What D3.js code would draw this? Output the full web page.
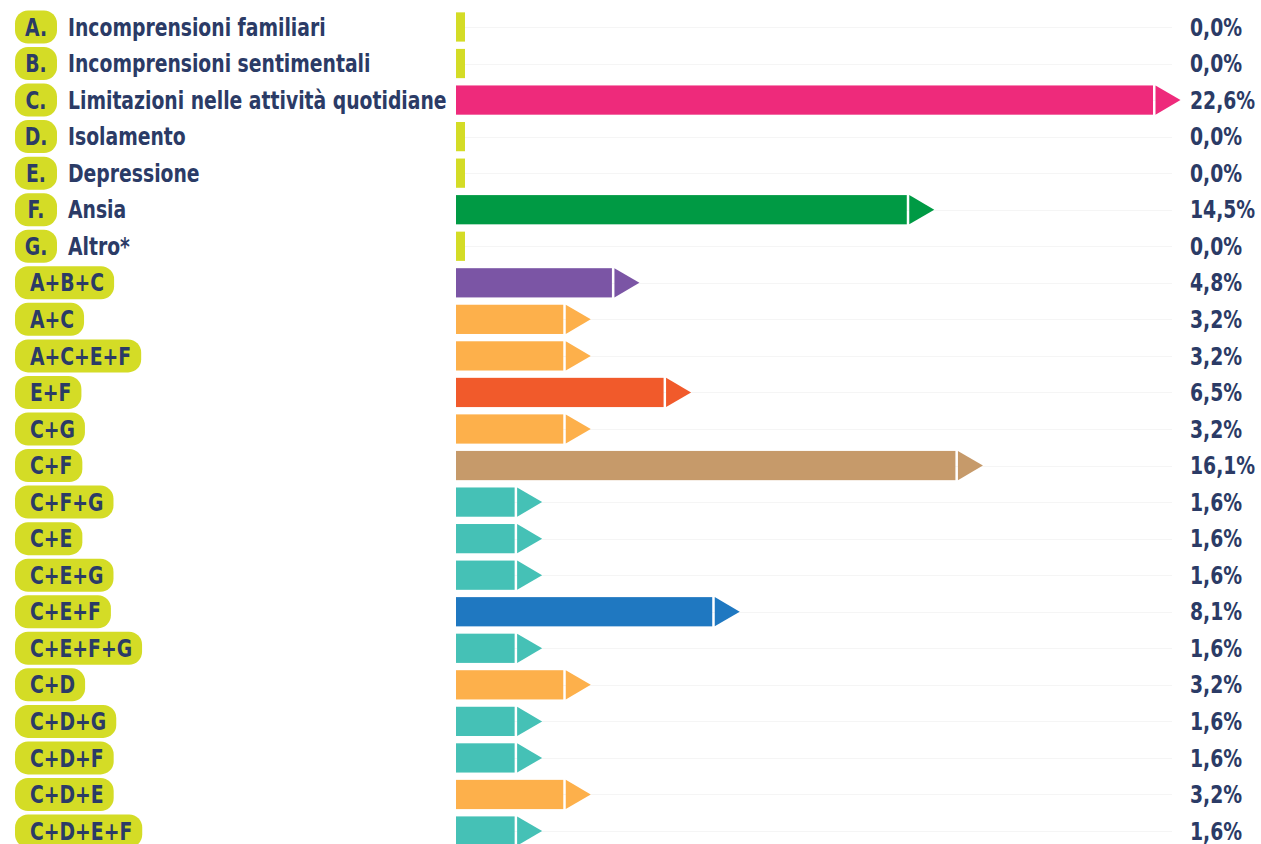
<!DOCTYPE html>
<html>
<head>
<meta charset="utf-8">
<script src="https://cdn.jsdelivr.net/npm/d3@7/dist/d3.min.js"></script>
<style>
  html, body { margin: 0; padding: 0; background: #ffffff; }
  svg { display: block; }
  text { font-family: "Liberation Sans Narrow", "Arial Narrow", "DejaVu Sans Condensed", sans-serif; font-weight: bold; }
</style>
</head>
<body>
<svg id="chart" width="1261" height="844"></svg>
<script>
// ---- data ----
const codes = ["A.", "B.", "C.", "D.", "E.", "F.", "G.",
  "A+B+C", "A+C", "A+C+E+F", "E+F", "C+G", "C+F", "C+F+G", "C+E", "C+E+G",
  "C+E+F", "C+E+F+G", "C+D", "C+D+G", "C+D+F", "C+D+E", "C+D+E+F"];
const descriptions = ["Incomprensioni familiari", "Incomprensioni sentimentali",
  "Limitazioni nelle attività quotidiane", "Isolamento", "Depressione", "Ansia", "Altro*",
  "", "", "", "", "", "", "", "", "", "", "", "", "", "", "", ""];
const values = [0.0, 0.0, 22.6, 0.0, 0.0, 14.5, 0.0,
  4.8, 3.2, 3.2, 6.5, 3.2, 16.1, 1.6, 1.6, 1.6,
  8.1, 1.6, 3.2, 1.6, 1.6, 3.2, 1.6];
const valueLabels = ["0,0%", "0,0%", "22,6%", "0,0%", "0,0%", "14,5%", "0,0%",
  "4,8%", "3,2%", "3,2%", "6,5%", "3,2%", "16,1%", "1,6%", "1,6%", "1,6%",
  "8,1%", "1,6%", "3,2%", "1,6%", "1,6%", "3,2%", "1,6%"];
const barColors = ["#d4dc26", "#d4dc26", "#ee2a7b", "#d4dc26", "#d4dc26", "#009a44", "#d4dc26",
  "#7b55a5", "#fdb04b", "#fdb04b", "#f15a2b", "#fdb04b", "#c69a6a", "#45c1b6", "#45c1b6", "#45c1b6",
  "#1f78c1", "#45c1b6", "#fdb04b", "#45c1b6", "#45c1b6", "#fdb04b", "#45c1b6"];

// ---- layout ----
const textColor = "#2b3b66";
const pillColor = "#d4dc26";
const barStart = 456;
const stubWidth = 9;
const fontSize = 24;
const squeeze = 0.87;

const svg = d3.select("#chart");
const rows = d3.range(codes.length);

const y = d3.scaleBand().domain(rows).range([8.7, 849.3]).paddingInner(0.2).paddingOuter(0.1);
const x = d3.scaleLinear().domain([0, 22.6]).range([barStart + 10, 1153]);

const arrowGap = 2.5, arrowW = 25;

function label(sel, tx, ty, str, anchor) {
  return sel.append("text")
    .attr("transform", `translate(${tx},${ty}) scale(${squeeze},1)`)
    .attr("dy", "0.36em")
    .attr("font-size", fontSize)
    .attr("fill", textColor)
    .attr("text-anchor", anchor || "start")
    .text(str);
}

// faint grid lines
svg.append("g").selectAll("line").data(rows).join("line")
  .attr("x1", barStart).attr("x2", 1172)
  .attr("y1", i => Math.round(y(i) + y.bandwidth() / 2) + 0.5)
  .attr("y2", i => Math.round(y(i) + y.bandwidth() / 2) + 0.5)
  .attr("stroke", "#f5f5f5").attr("stroke-width", 1);

// bars
const bars = svg.append("g");
rows.forEach(i => {
  const v = values[i];
  const top = y(i), h = y.bandwidth();
  if (v === 0) {
    bars.append("rect").attr("x", barStart).attr("y", top).attr("width", stubWidth).attr("height", h)
      .attr("fill", barColors[i]);
  } else {
    const end = x(v);
    bars.append("rect").attr("x", barStart).attr("y", top).attr("width", end - barStart).attr("height", h)
      .attr("fill", barColors[i]);
    const ax = end + arrowGap;
    bars.append("path")
      .attr("d", `M${ax},${top}L${ax + arrowW},${top + h / 2}L${ax},${top + h}Z`)
      .attr("fill", barColors[i]);
  }
});

// value labels
const vg = svg.append("g");
rows.forEach(i => label(vg, 1190, y(i) + y.bandwidth() / 2, valueLabels[i]));

// category pills
const labels = svg.append("g");
rows.forEach(i => {
  const cy = y(i) + y.bandwidth() / 2;
  const g = labels.append("g");
  const pill = g.append("rect").attr("fill", pillColor);
  const isLetter = descriptions[i] !== "";
  const px0 = 15, ph = 33;
  let pillW;
  if (isLetter) {
    pillW = 42;
    label(g, px0 + pillW / 2, cy, codes[i], "middle");
  } else {
    const t = label(g, px0 + 15, cy, codes[i]);
    pillW = t.node().getComputedTextLength() * squeeze + 25;
  }
  pill.attr("x", px0).attr("y", cy - ph / 2).attr("width", pillW).attr("height", ph)
    .attr("rx", 13).attr("ry", 13);
  if (isLetter) label(g, 68, cy, descriptions[i]);
});
</script>
</body>
</html>
